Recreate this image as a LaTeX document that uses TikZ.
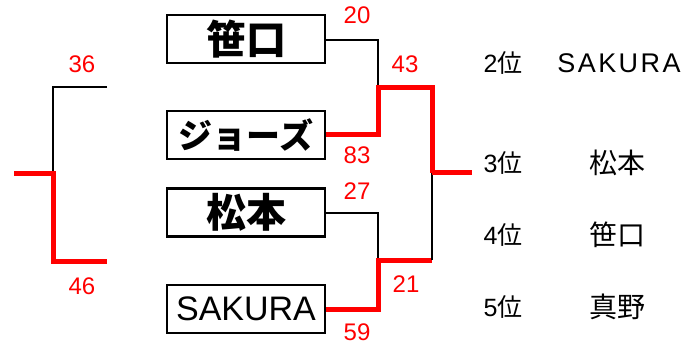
\documentclass[tikz,border=0pt]{standalone}
\usepackage{fontspec}
\setmainfont{Liberation Sans}
\newfontfamily\cjk{Noto Sans CJK JP}
\begin{document}
\begin{tikzpicture}[x=1pt,y=-1pt,
  team/.style={draw,line width=2.5pt,minimum width=158pt,minimum height=48pt,inner sep=0pt,font=\fontsize{34}{34}\selectfont},
  kanji/.style={font=\fontsize{40}{40}\selectfont\cjk\bfseries},
  score/.style={text=red,font=\fontsize{24}{24}\selectfont,inner sep=0pt},
  rank/.style={font=\fontsize{25}{25}\selectfont,inner sep=0pt},
  rname/.style={font=\fontsize{28}{28}\selectfont\cjk,inner sep=0pt},
  loser/.style={draw=black,line width=2pt},
  winner/.style={draw=red,line width=5pt}]
\useasboundingbox (0,0) rectangle (700,347);
% team boxes
\node[team,kanji] (sasa) at (246,39) {笹口};
\node[team] (jaws) at (246,135) {\cjk\bfseries ジョーズ};
\node[team,kanji] (matsu) at (246,212.5) {松本};
\node[team] (sak) at (246,309) {SAKURA};
% junction coordinates
\coordinate (j1) at (378,88);
\coordinate (j2) at (378,260);
\coordinate (f) at (432,173);
\coordinate (fend) at (472,173);
% semifinal 1
\draw[loser] (sasa.east |- 0,40) -| (j1);
\draw[winner] (jaws.east) -| (j1) -| (f);
% semifinal 2
\draw[loser] (matsu.east) -| (j2);
\draw[winner] (sak.east) -| (j2) -- (j2 -| f);
\draw[loser] (j2 -| f) -- (f);
\draw[winner] (f) -- (fend);
% left bracket
\coordinate (lt) at (107,87);
\coordinate (lb) at (107,261);
\coordinate (lj) at (53,174);
\coordinate (lend) at (14,174);
\draw[loser] (lt) -| (lj);
\draw[winner] (lend) -- (lj) |- (lb);
% scores
\node[score] at (357,15) {20};
\node[score] at (405,64) {43};
\node[score] at (357,155) {83};
\node[score] at (357,191) {27};
\node[score] at (406,284) {21};
\node[score] at (357,332) {59};
\node[score] at (82,64) {36};
\node[score] at (82,286) {46};
% ranking
\node[rank] (r2) at (503,63) {2{\cjk 位}};
\node[rank,font=\fontsize{27}{27}\selectfont] (n2) at (619,63) {\addfontfeature{LetterSpace=9}SAKURA};
\node[rank] (r3) at (503,163) {3{\cjk 位}};
\node[rname] (n3) at (617,163) {松本};
\node[rank] (r4) at (503,235) {4{\cjk 位}};
\node[rname] (n4) at (617,235) {笹口};
\node[rank] (r5) at (503,307) {5{\cjk 位}};
\node[rname] (n5) at (617,307) {真野};
\end{tikzpicture}
\end{document}
